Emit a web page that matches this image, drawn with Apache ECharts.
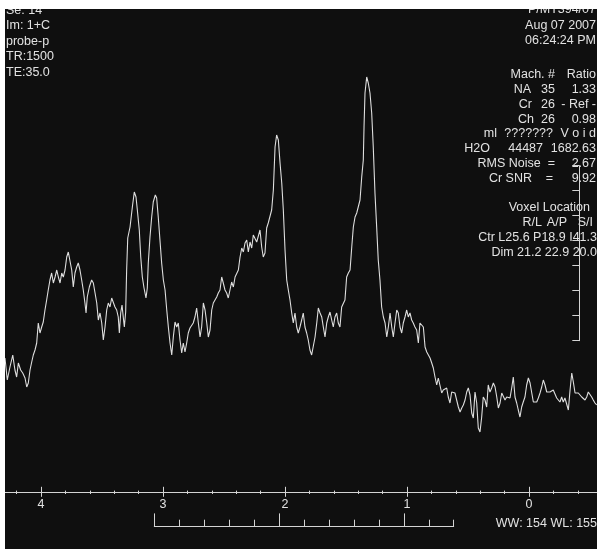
<!DOCTYPE html>
<html>
<head>
<meta charset="utf-8">
<script src="https://cdn.jsdelivr.net/npm/echarts@6/dist/echarts.min.js"></script>
<style>
  html, body { margin: 0; padding: 0; background: #ffffff; width: 597px; height: 549px; overflow: hidden; }
  #chart { position: absolute; left: 5px; top: 9px; width: 592px; height: 540px; background: #0f0f0f; }
</style>
</head>
<body>
<div id="chart"></div>
<script>
// ---- data: [chemical shift (ppm), signal intensity] ----
var lipidRegion = [
  [4.303,132],[4.284,110],[4.262,123],[4.239,135],[4.221,120],[4.207,113],[4.193,127],[4.174,120],
  [4.157,117],[4.138,112],[4.124,103],[4.111,107],[4.097,120],[4.083,128],[4.070,135],[4.056,140],
  [4.042,147],[4.029,167],[4.015,157],[4.001,163],[3.988,168],[3.974,180],[3.960,190],[3.947,200],
  [3.933,210],[3.919,217],[3.905,207],[3.891,213],[3.877,220],[3.864,213],[3.850,207],[3.836,217],
  [3.823,213],[3.809,220],[3.795,233],[3.782,238],[3.768,237],[3.754,220],[3.741,203],[3.727,217],
  [3.713,223],[3.700,227],[3.686,220],[3.672,210],[3.659,200],[3.645,187],[3.636,177],[3.626,193],
  [3.609,203],[3.590,210],[3.576,207],[3.562,197],[3.548,187],[3.535,170],[3.521,177],[3.507,167],
  [3.494,150],[3.480,163],[3.466,180],[3.453,187],[3.439,183],[3.425,192],[3.412,190],[3.398,183],
  [3.384,180],[3.371,173],[3.362,157],[3.351,177],[3.340,185],[3.330,173],[3.321,163],[3.310,178]
];
var cholineCreatine = [
  [3.302,220],[3.293,252],[3.274,263],[3.255,283],[3.239,298],[3.225,293],[3.214,280],[3.198,260],
  [3.186,233],[3.173,213],[3.159,202],[3.143,192],[3.132,202],[3.124,227],[3.110,253],[3.096,273],
  [3.083,288],[3.066,295],[3.055,292],[3.042,273],[3.028,250],[3.014,227],[3.000,210],[2.986,200],
  [2.972,180],[2.959,163],[2.945,147],[2.931,135],[2.918,153],[2.904,168],[2.890,163],[2.877,167],
  [2.863,150],[2.849,137],[2.836,147],[2.822,138],[2.808,147],[2.795,157],[2.781,162],[2.767,160],
  [2.754,167],[2.740,173],[2.726,182],[2.712,167],[2.698,153],[2.685,163],[2.671,187],[2.657,180],
  [2.643,167],[2.630,153],[2.616,160],[2.602,180],[2.589,187],[2.575,188],[2.561,193],[2.548,197],
  [2.534,200],[2.520,213],[2.507,207],[2.493,200],[2.479,197],[2.466,192],[2.452,200],[2.438,208],
  [2.424,203],[2.410,213],[2.397,212],[2.383,220],[2.369,233],[2.355,242],[2.342,238],[2.328,247],
  [2.314,250],[2.301,238],[2.287,248],[2.273,242],[2.260,255],[2.246,253],[2.232,248],[2.219,250],
  [2.205,260],[2.191,243],[2.178,233],[2.164,237],[2.150,262],[2.137,267],[2.123,268],[2.109,280]
];
var naaRegion = [
  [2.095,300],[2.081,343],[2.068,355],[2.054,350],[2.040,327],[2.026,307],[2.013,280],[1.999,240],
  [1.985,210],[1.972,200],[1.958,190],[1.944,177],[1.931,167],[1.917,177],[1.903,163],[1.890,157],
  [1.876,163],[1.862,170],[1.849,177],[1.835,163],[1.821,157],[1.808,150],[1.794,140],[1.780,135],
  [1.766,137],[1.752,153],[1.738,167],[1.725,182],[1.711,177],[1.697,173],[1.684,163],[1.670,153],
  [1.656,167],[1.643,173],[1.629,178],[1.615,170],[1.602,163],[1.588,173],[1.574,177],[1.561,167],
  [1.547,163],[1.533,183],[1.520,182],[1.506,190],[1.492,213],[1.478,217],[1.464,220],[1.450,243]
];
var lactateRegion = [
  [1.437,263],[1.423,273],[1.409,277],[1.396,278],[1.382,290],[1.368,313],[1.355,330],[1.349,363],
  [1.341,397],[1.327,413],[1.314,407],[1.300,397],[1.286,377],[1.273,343],[1.259,297],[1.245,263],
  [1.232,230],[1.218,210],[1.204,183],[1.190,173],[1.176,167],[1.162,153],[1.149,163],[1.135,177],
  [1.121,163],[1.108,153],[1.094,167],[1.080,180],[1.067,177],[1.053,163],[1.039,157],[1.026,167],
  [1.012,173],[0.998,180],[0.985,173],[0.971,177],[0.957,170],[0.944,167],[0.930,163],[0.916,160],
  [0.902,147],[0.889,167],[0.875,168],[0.861,163],[0.847,143],[0.833,138],[0.820,137],[0.806,132]
];
var noiseTail = [
  [0.792,127],[0.779,122],[0.765,113],[0.751,105],[0.738,112],[0.724,110],[0.710,97],[0.697,100],
  [0.683,98],[0.669,102],[0.656,93],[0.642,87],[0.628,98],[0.615,100],[0.601,97],[0.587,90],
  [0.573,83],[0.559,78],[0.545,82],[0.532,85],[0.518,90],[0.504,98],[0.491,102],[0.477,95],
  [0.463,77],[0.450,72],[0.436,98],[0.422,87],[0.409,62],[0.395,58],[0.381,73],[0.368,93],
  [0.354,90],[0.340,83],[0.327,105],[0.313,98],[0.299,102],[0.285,107],[0.271,103],[0.257,93],
  [0.244,82],[0.230,87],[0.216,97],[0.203,98],[0.189,90],[0.175,93],[0.162,95],[0.148,92],
  [0.134,102],[0.121,113],[0.107,93],[0.093,87],[0.080,80],[0.066,73],[0.052,83],[0.039,88],
  [0.025,93],[0.011,105],[-0.003,112],[-0.017,107],[-0.031,97],[-0.044,88],[-0.058,87],[-0.072,88],
  [-0.085,92],[-0.099,97],[-0.113,103],[-0.126,110],[-0.140,105],[-0.154,98],[-0.167,100],[-0.181,98],
  [-0.195,97],[-0.208,100],[-0.222,98],[-0.236,92],[-0.249,90],[-0.263,88],[-0.277,93],[-0.290,88],
  [-0.304,92],[-0.318,90],[-0.332,80],[-0.346,100],[-0.360,117],[-0.373,108],[-0.387,97],[-0.401,98],
  [-0.414,97],[-0.428,95],[-0.442,93],[-0.455,92],[-0.469,90],[-0.483,93],[-0.496,98],[-0.510,97],
  [-0.524,93],[-0.537,90],[-0.551,87],[-0.565,85]
];

// ---- texts ----
var leftInfo = ['Se: 14', 'Im: 1+C', 'probe-p', 'TR:1500', 'TE:35.0'];
var topRightInfo = ['P/MT394/07', 'Aug 07 2007', '06:24:24 PM'];
// each row: [y, [text, rightEdgeX], ...]
var metaboliteRows = [
  [74.8, ['Mach. #', 555], ['Ratio', 596]],
  [89.6, ['NA', 531], ['35', 555], ['1.33', 596]],
  [104.4, ['Cr', 532], ['26', 555], ['- Ref -', 596]],
  [119.2, ['Ch', 534], ['26', 555], ['0.98', 596]],
  [134.0, ['ml', 497], ['???????', 553], ['V o i d', 596]],
  [148.8, ['H2O', 490], ['44487', 543], ['1682.63', 596]],
  [163.6, ['RMS Noise  =', 555], ['2.67', 596]],
  [178.4, ['Cr SNR', 532], ['=', 553], ['9.92', 596]],
  [208.0, ['Voxel Location', 590]],
  [222.8, ['R/L', 542], ['A/P', 567], ['S/I', 593]],
  [237.6, ['Ctr L25.6 P18.9 I41.3', 597]],
  [252.4, ['Dim 21.2 22.9 20.0', 597]]
];
var windowInfo = 'WW: 154 WL: 155';

var FG = '#e2e2e2';
var LINE = '#d4d4d4';
var FAMILY = '"Liberation Sans", Arial, sans-serif';
var FONT = '12.5px ' + FAMILY;
var OX = 5, OY = 9; // container offset on page

function txt(s, x, y, align) {
  return {
    type: 'text', x: x - OX, y: y - OY, silent: true,
    style: { text: s, fill: FG, font: FONT, align: align, verticalAlign: 'middle',
             textAlign: align, textVerticalAlign: 'middle' }
  };
}

var graphics = [];
leftInfo.forEach(function (s, i) { graphics.push(txt(s, 6, 10.4 + i * 15.5, 'left')); });
topRightInfo.forEach(function (s, i) { graphics.push(txt(s, 596, 10.0 + i * 15.5, 'right')); });
metaboliteRows.forEach(function (row) {
  for (var k = 1; k < row.length; k++) graphics.push(txt(row[k][0], row[k][1], row[0], 'right'));
});
graphics.push(txt(windowInfo, 597, 523.3, 'right'));

var spectrum = [].concat(lipidRegion, cholineCreatine, naaRegion, lactateRegion, noiseTail);

function tickAxis(grid, min, max, interval, inside, len, lineShow, labelShow) {
  return {
    gridIndex: grid, type: 'value', position: 'bottom', min: min, max: max, interval: interval, inverse: true,
    axisLine: { show: lineShow, onZero: false, lineStyle: { color: LINE, width: 1 } },
    axisTick: { show: len > 0, inside: inside, length: len, lineStyle: { color: LINE, width: 1 } },
    axisLabel: { show: labelShow, margin: 6, color: FG, fontSize: 12.5, fontFamily: FAMILY },
    splitLine: { show: false }
  };
}

var chart = echarts.init(document.getElementById('chart'), null, { renderer: 'canvas' });
chart.setOption({
  animation: false,
  backgroundColor: '#0f0f0f',
  grid: [
    { left: 0, right: 0, top: 1, bottom: 56.7 },                  // 0 spectrum + axis line
    { left: 35.9, width: 488.2, top: 1, bottom: 56.7 },            // 1 major ppm ticks (4..0)
    { left: 11.53, width: 561.4, top: 1, bottom: 56.7 },           // 2 minor ppm ticks (4.2..-0.4)
    { left: 149.3, width: 299.4, top: 480, bottom: 22.3 },         // 3 bracket minor ticks
    { left: 149.3, width: 249.5, top: 480, bottom: 22.3 },         // 4 bracket major ticks
    { left: 565, width: 9.3, top: 156.7, height: 175 }             // 5 vertical ruler
  ],
  xAxis: [
    tickAxis(0, -0.5677, 4.3028, null, true, 0, true, false),
    tickAxis(1, 0, 4, 1, true, 5.5, false, false),
    tickAxis(1, 0, 4, 1, false, 4.5, false, true),
    tickAxis(2, -0.4, 4.2, 0.2, true, 1.7, false, false),
    tickAxis(2, -0.4, 4.2, 0.2, false, 1.7, false, false),
    { gridIndex: 3, type: 'value', min: 0, max: 12, interval: 1,
      axisLine: { show: true, onZero: false, lineStyle: { color: LINE, width: 1 } },
      axisTick: { show: true, inside: true, length: 7, lineStyle: { color: LINE, width: 1 } },
      axisLabel: { show: false }, splitLine: { show: false } },
    { gridIndex: 4, type: 'value', min: 0, max: 10, interval: 5,
      axisLine: { show: false, onZero: false },
      axisTick: { show: true, inside: true, length: 13.3, lineStyle: { color: LINE, width: 1 } },
      axisLabel: { show: false }, splitLine: { show: false } },
    { gridIndex: 5, type: 'value', show: false }
  ],
  yAxis: [
    { gridIndex: 0, type: 'value', min: -2.3, max: 480, show: false },
    { gridIndex: 1, type: 'value', show: false },
    { gridIndex: 2, type: 'value', show: false },
    { gridIndex: 3, type: 'value', show: false },
    { gridIndex: 4, type: 'value', show: false },
    { gridIndex: 5, type: 'value', position: 'right', min: 0, max: 7, interval: 1,
      axisLine: { show: true, onZero: false, lineStyle: { color: LINE, width: 1 } },
      axisTick: { show: true, inside: true, length: 7, lineStyle: { color: LINE, width: 1 } },
      axisLabel: { show: false }, splitLine: { show: false } }
  ],
  series: [{
    type: 'line', xAxisIndex: 0, yAxisIndex: 0, data: spectrum,
    showSymbol: false, symbol: 'none', silent: true,
    lineStyle: { color: '#dedede', width: 1.1 }
  }],
  graphic: graphics
});
</script>
</body>
</html>
